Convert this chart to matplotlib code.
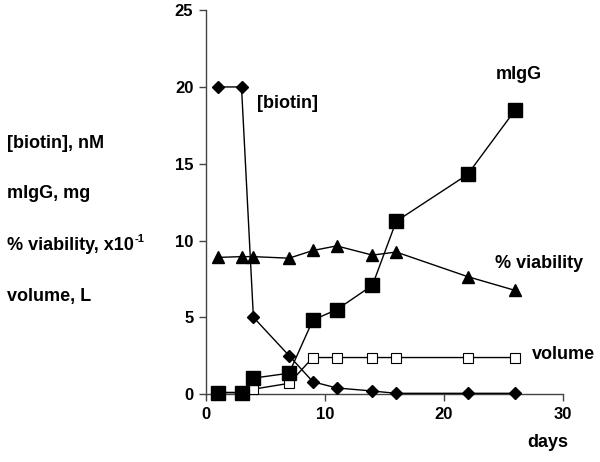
import matplotlib
matplotlib.use("Agg")
import matplotlib.pyplot as plt

days = [1, 3, 4, 7, 9, 11, 14, 16, 22, 26]
biotin = [20, 20, 5.0, 2.5, 0.8, 0.4, 0.2, 0.05, 0.05, 0.05]
viability = [8.9, 8.95, 8.95, 8.85, 9.35, 9.65, 9.05, 9.25, 7.65, 6.75]
migg = [0.1, 0.1, 1.04, 1.36, 4.82, 5.5, 7.08, 11.25, 14.3, 18.5]
volume = [0.1, 0.1, 0.32, 0.7, 2.38, 2.38, 2.38, 2.38, 2.38, 2.38]

xticks = [0, 10, 20, 30]
yticks = [0, 5, 10, 15, 20, 25]
left_labels = ["[biotin], nM", "mIgG, mg", "% viability, x10", "volume, L"]
sup_label = "-1"

plt.rcParams['font.family'] = ['Liberation Sans', 'DejaVu Sans']
plt.rcParams['font.weight'] = 'bold'

fig = plt.figure(figsize=(6, 4.62), dpi=100)
ax = fig.add_axes([0.343, 0.147, 0.595, 0.831])

lw = 1.0
ax.plot(days, volume, color='black', lw=lw, marker='s', ms=6.5, mfc='white', mec='black', mew=0.8, zorder=3)
ax.plot(days, viability, color='black', lw=lw, marker='^', ms=8, mfc='black', mec='black', zorder=3)
ax.plot(days, biotin, color='black', lw=lw, marker='D', ms=6.5, mfc='black', mec='black', zorder=4)
ax.plot(days, migg, color='black', lw=lw, marker='s', ms=10, mfc='black', mec='black', zorder=5)

ax.set_xlim(0, 30)
ax.set_ylim(0, 25)
ax.set_xticks(xticks)
ax.set_yticks(yticks)
ax.tick_params(axis='both', direction='out', length=5, width=1, labelsize=12, pad=4)
for lab in ax.get_xticklabels() + ax.get_yticklabels():
    lab.set_fontweight('bold')
for s in ['top', 'right']:
    ax.spines[s].set_visible(False)
for s in ['left', 'bottom']:
    ax.spines[s].set_color('#444444')
    ax.spines[s].set_linewidth(1.0)
ax.tick_params(colors='#444444', labelcolor='black')
for l in ax.lines:
    l.set_clip_on(False)

ax.set_xlabel('days', fontsize=13, fontweight='bold')
ax.xaxis.set_label_coords(0.958, -0.105)

fs = 13
ax.text(4.3, 18.9, '[biotin]', fontsize=fs, fontweight='bold', va='center', ha='left')
ax.text(24.4, 20.8, 'mIgG', fontsize=fs, fontweight='bold', va='center', ha='left')
ax.text(24.3, 8.5, '% viability', fontsize=fs, fontweight='bold', va='center', ha='left')
ax.text(27.4, 2.55, 'volume', fontsize=fs, fontweight='bold', va='center', ha='left')

ys_px = [143, 194, 245, 296]
texts = []
for t, yp in zip(left_labels, ys_px):
    texts.append(fig.text(7 / 600, 1 - yp / 462, t, fontsize=fs, fontweight='bold', va='center', ha='left'))

fig.canvas.draw()
r = fig.canvas.get_renderer()
bb = texts[2].get_window_extent(renderer=r)
fig.text((bb.x1 + 1) / 600, (bb.y1 + 2) / 462, sup_label, fontsize=8, fontweight='bold', va='top', ha='left')

fig.savefig('out.png', dpi=100)
